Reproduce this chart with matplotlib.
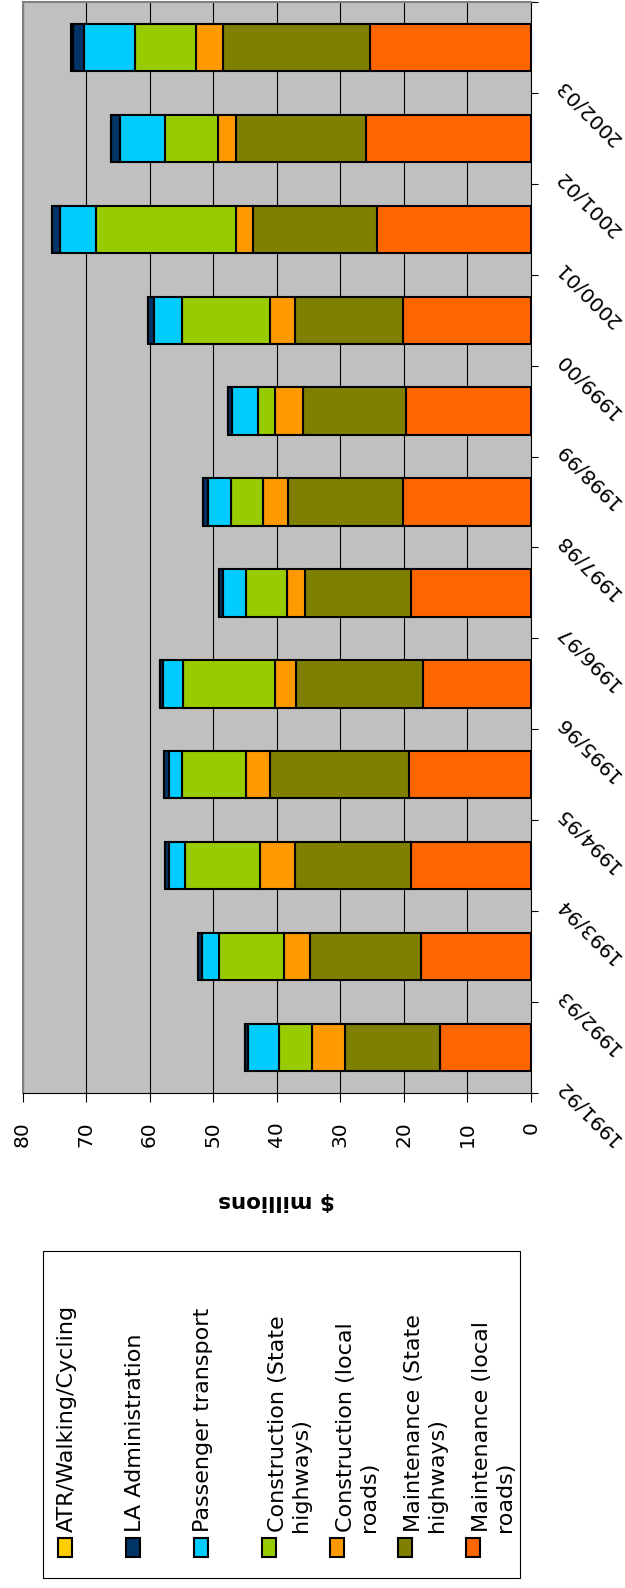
import matplotlib
matplotlib.use("Agg")
import matplotlib.pyplot as plt
import numpy as np
from matplotlib.patches import Rectangle

W, H = 625, 1588  # output size in pixels (dpi 100)

years = ["1991/92", "1992/93", "1993/94", "1994/95", "1995/96", "1996/97",
         "1997/98", "1998/99", "1999/00", "2000/01", "2001/02", "2002/03"]

# $ millions per year, stacked from the axis outwards
maint_local = [14.3, 17.3, 18.9, 19.2, 17.0, 18.9, 20.2, 19.7, 20.2, 24.3, 25.9, 25.4]
maint_state = [15.0, 17.5, 18.3, 21.8, 20.0, 16.6, 18.1, 16.2, 17.0, 19.5, 20.5, 23.1]
constr_local = [5.2, 4.1, 5.4, 3.8, 3.3, 2.9, 3.9, 4.3, 3.8, 2.6, 2.8, 4.2]
constr_state = [5.2, 10.2, 11.8, 10.1, 14.4, 6.5, 5.0, 2.8, 13.9, 22.0, 8.4, 9.6]
passenger = [4.9, 2.7, 2.6, 2.1, 3.2, 3.5, 3.6, 4.1, 4.4, 5.7, 7.1, 8.0]
la_admin = [0.4, 0.6, 0.6, 0.7, 0.5, 0.7, 0.8, 0.6, 1.0, 1.3, 1.3, 1.7]
atr = [0, 0, 0, 0, 0, 0, 0, 0, 0, 0, 0, 0.4]

legend_names = ["ATR/Walking/Cycling", "LA Administration", "Passenger transport",
                "Construction (State\nhighways)", "Construction (local\nroads)",
                "Maintenance (State\nhighways)", "Maintenance (local\nroads)"]
legend_colors = ["#FFCC00", "#003366", "#00CCFF", "#99CC00", "#FF9900", "#808000", "#FF6600"]

value_ticks = np.arange(0, 81, 10)


def fx(x):
    return x / W


def fy(y):
    return 1 - y / H


fig = plt.figure(figsize=(W / 100, H / 100), dpi=100)
ax = fig.add_axes([fx(22.5), fy(1093), (531 - 22.5) / W, (1093 - 2) / H])
ax.set_facecolor("#C0C0C0")

# stack order (base first) paired with legend colours (legend lists top first)
stack = [maint_local, maint_state, constr_local, constr_state, passenger, la_admin, atr]
stack_colors = legend_colors[::-1]

pos = np.arange(len(years))
left = np.zeros(len(years))
for vals, col in zip(stack, stack_colors):
    vals = np.array(vals, dtype=float)
    ax.barh(pos, vals, left=left, height=0.52, color=col,
            edgecolor="black", linewidth=1.5, zorder=3)
    left += vals

ax.set_xlim(80, 0)
ax.set_ylim(-0.5, len(years) - 0.5)
ax.set_xticks(value_ticks)
ax.tick_params(axis="x", direction="out", length=6.5, width=0.8, pad=14,
               labelsize=14.5, labelrotation=90)
ax.grid(axis="x", color="black", linewidth=0.8, zorder=1)
ax.set_axisbelow(True)

ax.yaxis.tick_right()
ax.set_yticks([])
ax.set_yticks(np.arange(-0.5, len(years), 1), minor=True)
ax.tick_params(axis="y", which="minor", direction="out", length=5, width=0.8,
               right=True, left=False)

for side in ("left", "top"):
    ax.spines[side].set_color("#808080")
    ax.spines[side].set_linewidth(1.5)
for side in ("right", "bottom"):
    ax.spines[side].set_color("black")
    ax.spines[side].set_linewidth(0.8)

for i, yr in enumerate(years):
    ax.annotate(yr, xy=(1, i), xycoords=("axes fraction", "data"),
                xytext=(15, -20), textcoords="offset points",
                rotation=135, ha="left", va="top", fontsize=14.5,
                annotation_clip=False)

fig.text(fx(277), fy(1201), "$ millions", rotation=180, ha="center", va="center",
         fontsize=15.5, fontweight="bold")

# legend box, drawn by hand so the entries can run sideways
fig.add_artist(Rectangle((fx(43), fy(1578)), (520 - 43) / W, (1578 - 1251) / H,
                         transform=fig.transFigure, fill=False,
                         edgecolor="black", linewidth=0.8))
line_step = 26.5  # px between wrapped lines at this font size
for k, (name, col) in enumerate(zip(legend_names, legend_colors)):
    cx = 65.3 + 68 * k
    fig.add_artist(Rectangle((fx(cx - 7), fy(1557)), 14 / W, 19 / H,
                             transform=fig.transFigure, facecolor=col,
                             edgecolor="black", linewidth=1.5))
    # 'baseline' anchors the last line, so push wrapped entries right
    extra = line_step * name.count("\n")
    fig.text(fx(cx + 8 + extra), fy(1532), name, rotation=90, rotation_mode="anchor",
             ha="left", va="baseline", fontsize=16, linespacing=1.2)

fig.savefig("out.png", dpi=100)
